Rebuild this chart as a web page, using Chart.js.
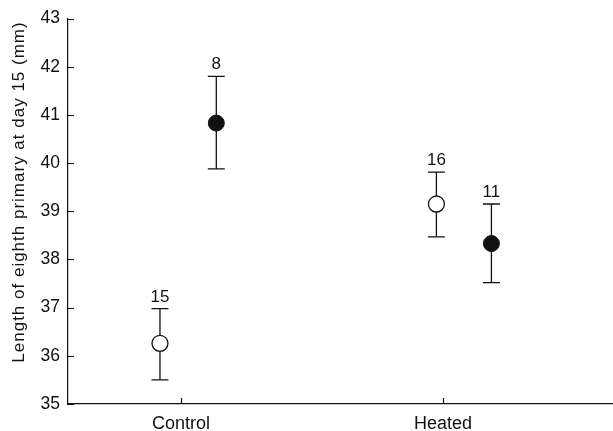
<!DOCTYPE html>
<html>
<head>
<meta charset="utf-8">
<script src="https://cdn.jsdelivr.net/npm/chart.js@4"></script>
<style>
  html, body { margin: 0; padding: 0; background: #fff; }
  #wrap { width: 613px; height: 431px; }
</style>
</head>
<body>
<div id="wrap"><canvas id="chart"></canvas></div>
<script>
// Groups and measured values (mean with error bar ends, sample size)
const groups = ['Control', 'Heated'];
const groupPos = [1, 2];

const openX = [0.92, 1.975];
const openMean = [36.26, 39.15];
const openLow = [35.50, 38.47];
const openHigh = [36.98, 39.81];
const openN = [15, 16];

const filledX = [1.135, 2.185];
const filledMean = [40.83, 38.33];
const filledLow = [39.88, 37.52];
const filledHigh = [41.80, 39.15];
const filledN = [8, 11];

const yTicks = [35, 36, 37, 38, 39, 40, 41, 42, 43];
const yTitle = 'Length of eighth primary at day 15 (mm)';

const FONT = '"Liberation Sans", Arial, Helvetica, sans-serif';

const series = [
  { x: openX, mean: openMean, low: openLow, high: openHigh, n: openN },
  { x: filledX, mean: filledMean, low: filledLow, high: filledHigh, n: filledN }
];

// error bars, n labels, y title and inward tick marks
const extras = {
  id: 'extras',
  beforeDatasetsDraw(chart) {
    const { ctx, scales: { x, y } } = chart;
    ctx.save();
    ctx.strokeStyle = '#111';
    ctx.lineWidth = 1.3;
    series.forEach(s => {
      s.x.forEach((xv, i) => {
        const px = x.getPixelForValue(xv);
        const top = y.getPixelForValue(s.high[i]);
        const bot = y.getPixelForValue(s.low[i]);
        ctx.beginPath();
        ctx.moveTo(px, top); ctx.lineTo(px, bot);
        ctx.moveTo(px - 8.5, top); ctx.lineTo(px + 8.5, top);
        ctx.moveTo(px - 8.5, bot); ctx.lineTo(px + 8.5, bot);
        ctx.stroke();
      });
    });
    ctx.restore();
  },
  afterDraw(chart) {
    const { ctx, chartArea, scales: { x, y } } = chart;
    ctx.save();
    ctx.fillStyle = '#111';
    ctx.font = '17px ' + FONT;
    ctx.textAlign = 'center';
    ctx.textBaseline = 'alphabetic';
    series.forEach(s => {
      s.x.forEach((xv, i) => {
        const px = x.getPixelForValue(xv);
        const top = y.getPixelForValue(s.high[i]);
        ctx.fillText(String(s.n[i]), px, top - 7);
      });
    });
    // rotated axis title
    ctx.save();
    ctx.translate(19, 192);
    ctx.rotate(-Math.PI / 2);
    ctx.font = '17px ' + FONT;
    ctx.letterSpacing = '1px';
    ctx.textBaseline = 'middle';
    ctx.fillText(yTitle, 0, 0);
    ctx.restore();

    ctx.strokeStyle = '#111';
    ctx.lineWidth = 1.2;
    ctx.beginPath();
    yTicks.forEach(v => {
      const py = Math.round(y.getPixelForValue(v)) + 0.5;
      ctx.moveTo(chartArea.left, py); ctx.lineTo(chartArea.left + 6, py);
    });
    groupPos.forEach(v => {
      const px = Math.round(x.getPixelForValue(v)) + 0.5;
      ctx.moveTo(px, chartArea.bottom); ctx.lineTo(px, chartArea.bottom - 6);
    });
    ctx.stroke();
    ctx.restore();
  }
};

new Chart(document.getElementById('chart'), {
  type: 'scatter',
  data: {
    datasets: [
      {
        label: 'open',
        data: openX.map((v, i) => ({ x: v, y: openMean[i] })),
        pointStyle: 'circle',
        pointRadius: 8,
        pointBackgroundColor: '#fff',
        pointBorderColor: '#111',
        pointBorderWidth: 1.3
      },
      {
        label: 'filled',
        data: filledX.map((v, i) => ({ x: v, y: filledMean[i] })),
        pointStyle: 'circle',
        pointRadius: 8,
        pointBackgroundColor: '#111',
        pointBorderColor: '#111',
        pointBorderWidth: 1
      }
    ]
  },
  options: {
    responsive: true,
    maintainAspectRatio: false,
    animation: false,
    layout: { autoPadding: false, padding: { top: 17, right: 0, left: 0, bottom: 0 } },
    plugins: { legend: { display: false }, tooltip: { enabled: false } },
    scales: {
      x: {
        type: 'linear',
        min: 0.569,
        max: 2.649,
        afterBuildTicks: s => { s.ticks = groupPos.map(v => ({ value: v })); },
        afterFit: s => { s.height = 27; },
        grid: { display: false, drawTicks: false },
        border: { display: true, color: '#111', width: 1.2 },
        ticks: {
          padding: 9,
          color: '#111',
          font: { family: FONT, size: 18 },
          callback: v => groups[groupPos.indexOf(v)]
        }
      },
      y: {
        min: 35,
        max: 43,
        afterBuildTicks: s => { s.ticks = yTicks.map(v => ({ value: v })); },
        afterFit: s => { s.width = 68; },
        grid: { display: false, drawTicks: false },
        border: { display: true, color: '#111', width: 1.2 },
        ticks: {
          padding: 8,
          color: '#111',
          font: { family: FONT, size: 17.5 }
        }
      }
    }
  },
  plugins: [extras]
});
</script>
</body>
</html>
